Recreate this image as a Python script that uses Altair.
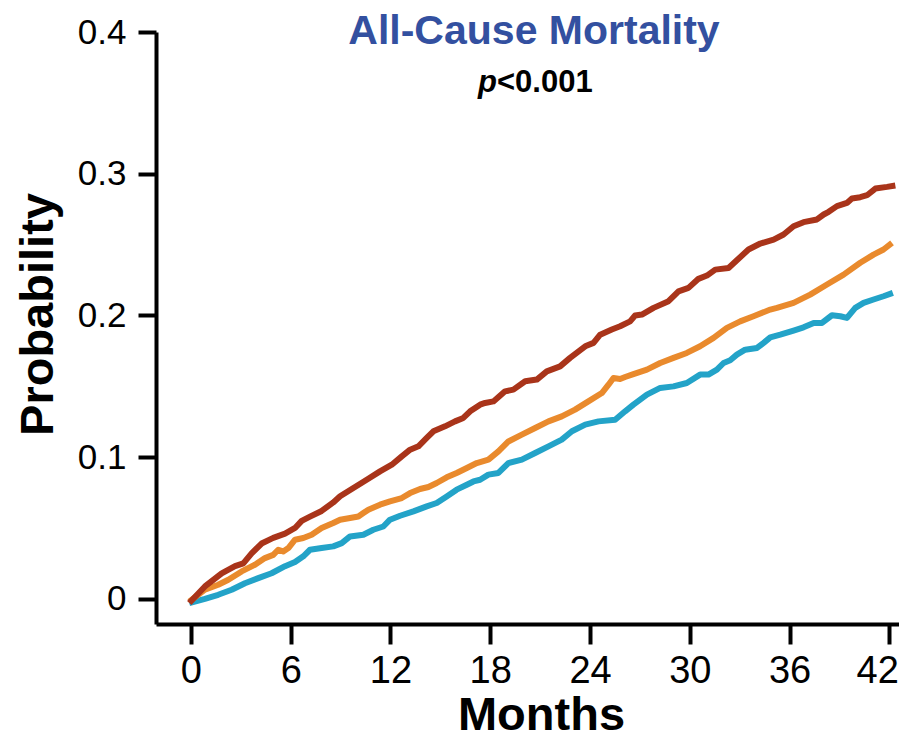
import altair as alt
import pandas as pd

# ---- data ----
red_months = [-0.1, 0.84, 1.85, 2.65, 3.15, 3.65, 4.25, 4.95, 5.66, 6.26, 6.66, 7.16, 7.86, 8.56,
              8.97, 9.77, 10.57, 11.37, 12.08, 12.68, 13.18, 13.68, 14.18, 14.58, 15.28, 15.88, 16.38, 16.79, 17.39,
              17.69, 18.19, 18.89, 19.39, 20.10, 20.80, 21.40, 22.20, 22.80, 23.71, 24.21, 24.61, 25.31, 25.81,
              26.41, 26.71, 27.12, 27.82, 28.72, 29.32, 29.92, 30.52, 31.03, 31.53, 32.33, 32.83, 33.53, 34.24,
              35.04, 35.64, 36.24, 36.84, 37.65, 38.05, 38.35, 38.85, 39.45, 39.75, 40.25, 40.66, 41.16, 41.86, 42.36]
red_prob = [-0.003, 0.0087, 0.018, 0.023, 0.025, 0.032, 0.039, 0.043, 0.046, 0.050, 0.055, 0.058, 0.062, 0.068,
            0.0723, 0.0782, 0.084, 0.0899, 0.0946, 0.1005, 0.1052, 0.1076, 0.1135, 0.1182, 0.1217, 0.1252, 0.1276, 0.1323, 0.137,
            0.1382, 0.1393, 0.1464, 0.1476, 0.1535, 0.1547, 0.1605, 0.164, 0.170, 0.1782, 0.1806, 0.1864, 0.190, 0.1923,
            0.1958, 0.1999, 0.2006, 0.2053, 0.210, 0.217, 0.2194, 0.2258, 0.2281, 0.2323, 0.2335, 0.2389, 0.2465, 0.2507,
            0.2535, 0.2571, 0.2629, 0.2658, 0.2677, 0.2712, 0.2731, 0.2771, 0.2794, 0.2825, 0.2834, 0.2848, 0.2895, 0.2907, 0.2917]

orange_months = [-0.1, 0.84, 1.64, 2.25, 3.05, 3.85, 4.45, 4.95, 5.25, 5.55, 5.86, 6.26, 6.76, 7.26, 7.86, 8.56,
                 8.97, 9.57, 10.07, 10.37, 10.67, 11.37, 11.97, 12.68, 13.18, 13.78, 14.28, 14.78, 15.38, 15.98, 16.59, 17.19,
                 17.89, 18.49, 19.09, 19.90, 20.70, 21.50, 22.30, 23.10, 23.90, 24.71, 25.11, 25.41, 25.81, 26.11,
                 26.61, 27.42, 28.22, 29.02, 29.82, 30.62, 31.43, 32.23, 33.03, 33.83, 34.84,
                 35.24, 36.24, 37.24, 38.25, 39.25, 40.25, 41.05, 41.65, 42.16]
orange_prob = [-0.002, 0.0064, 0.0099, 0.0134, 0.0193, 0.024, 0.0287, 0.031, 0.0346, 0.0334, 0.0358, 0.0417, 0.0429, 0.0452, 0.0499, 0.0535,
               0.0558, 0.057, 0.0581, 0.0605, 0.0629, 0.0664, 0.0687, 0.0711, 0.0746, 0.0775, 0.0789, 0.0817, 0.0857, 0.0888, 0.0923, 0.0958,
               0.0982, 0.104, 0.111, 0.1158, 0.1205, 0.1252, 0.1287, 0.1335, 0.1393, 0.1452, 0.1511, 0.1558, 0.1551, 0.1565,
               0.1585, 0.1617, 0.1664, 0.170, 0.1735, 0.1782, 0.1841, 0.1912, 0.1958, 0.1994, 0.2041,
               0.2053, 0.2088, 0.2147, 0.2218, 0.2288, 0.2371, 0.2429, 0.2465, 0.2512]

blue_months = [-0.1, 0.84, 1.64, 2.45, 3.25, 4.05, 4.85, 5.66, 6.26, 6.76, 7.16, 7.86, 8.56,
               9.07, 9.57, 10.37, 10.97, 11.57, 11.97, 12.58, 13.38, 14.18, 14.78, 15.38, 15.98, 16.59, 16.99, 17.39,
               17.89, 18.49, 19.09, 19.90, 20.70, 21.50, 22.30, 22.91, 23.71, 24.51, 25.51, 26.11,
               26.61, 27.42, 28.22, 29.02, 29.82, 30.62, 31.12, 31.63, 32.03, 32.43, 32.83, 33.33, 34.04, 34.44,
               34.84, 35.44, 36.24, 36.84, 37.45, 37.95, 38.55, 39.05, 39.45, 39.95, 40.45, 41.05, 41.65, 42.21]
blue_prob = [-0.003, 0.0, 0.0028, 0.0064, 0.011, 0.0146, 0.018, 0.023, 0.026, 0.030, 0.0346, 0.0358, 0.037,
             0.0393, 0.044, 0.0452, 0.0487, 0.051, 0.0558, 0.0586, 0.0617, 0.0652, 0.0676, 0.0722, 0.077, 0.0805, 0.0828, 0.084,
             0.0876, 0.0888, 0.0958, 0.0982, 0.1029, 0.1076, 0.1123, 0.1182, 0.1229, 0.1252, 0.1264, 0.1323,
             0.137, 0.1441, 0.1488, 0.1499, 0.1523, 0.1582, 0.1582, 0.1617, 0.1664, 0.1683, 0.1723, 0.1758, 0.177, 0.1806,
             0.1845, 0.1864, 0.1893, 0.1916, 0.1947, 0.1947, 0.2001, 0.1994, 0.1982, 0.2053, 0.2088, 0.2112, 0.2135, 0.2159]

series_names = ["Group 1", "Group 2", "Group 3"]
series_colors = ["#23A3C8", "#E98A2D", "#A9341A"]
x_ticks = [0, 6, 12, 18, 24, 30, 36, 42]
y_ticks = [0, 0.1, 0.2, 0.3, 0.4]

title_text = "All-Cause Mortality"
p_letter = "p"
p_rest = "<0.001"

FONT = "Liberation Sans, Arial, sans-serif"

rows = []
for name, ms, ps in zip(series_names,
                        [blue_months, orange_months, red_months],
                        [blue_prob, orange_prob, red_prob]):
    for m, p in zip(ms, ps):
        rows.append({"series": name, "month": m, "prob": p})
df = pd.DataFrame(rows)
df["order"] = range(len(df))

lines = alt.Chart(df).mark_line(strokeWidth=6, strokeJoin="round", strokeCap="butt").encode(
    x=alt.X("month:Q",
            scale=alt.Scale(domain=[-2.1, 42.58], nice=False, zero=False),
            axis=alt.Axis(values=x_ticks, title="Months", grid=False,
                          labelFontSize=38, labelFont=FONT, labelColor="black", labelPadding=8,
                          labelFlush=15, labelFlushOffset=9,
                          tickSize=20, tickWidth=4, tickColor="black",
                          domainWidth=4, domainColor="black",
                          titleFontSize=47, titleFont=FONT, titleFontWeight="bold", titleColor="black",
                          titleX=385, titleY=105, titleBaseline="alphabetic", titleAlign="center")),
    y=alt.Y("prob:Q",
            scale=alt.Scale(domain=[-0.0178, 0.4], nice=False, zero=False),
            axis=alt.Axis(values=y_ticks, title="Probability", grid=False,
                          labelExpr="datum.value == 0 ? '0' : format(datum.value, '.1f')",
                          labelFontSize=35, labelFont=FONT, labelColor="black", labelPadding=12,
                          tickSize=18, tickWidth=4, tickColor="black",
                          domainWidth=4, domainColor="black",
                          titleFontSize=47, titleFont=FONT, titleFontWeight="bold", titleColor="black",
                          titleX=-104, titleY=282, titleBaseline="alphabetic", titleAlign="center",
                          titleAngle=270, labelFlush=False)),
    color=alt.Color("series:N", scale=alt.Scale(domain=series_names, range=series_colors), legend=None),
    order=alt.Order("order:Q"),
)

title_mark = alt.Chart(pd.DataFrame({"t": [title_text]})).mark_text(
    font=FONT, fontSize=41, fontWeight="bold", color="#3350A0", align="center", baseline="alphabetic"
).encode(text="t:N", x=alt.value(378), y=alt.value(12))

p_mark = alt.Chart(pd.DataFrame({"t": [p_letter]})).mark_text(
    font=FONT, fontSize=31, fontWeight="bold", fontStyle="italic", color="black", align="right", baseline="alphabetic"
).encode(text="t:N", x=alt.value(341), y=alt.value(60))

rest_mark = alt.Chart(pd.DataFrame({"t": [p_rest]})).mark_text(
    font=FONT, fontSize=31, fontWeight="bold", color="black", align="left", baseline="alphabetic"
).encode(text="t:N", x=alt.value(341), y=alt.value(60))

chart = alt.layer(lines, title_mark, p_mark, rest_mark).properties(
    width=743, height=592,
    autosize=alt.AutoSizeParams(type="none"),
    padding={"left": 148, "top": 24, "right": 0, "bottom": 112},
    background="white",
).configure_view(strokeWidth=0)

chart.save("out.html", embed_options={"renderer": "svg", "actions": False})
